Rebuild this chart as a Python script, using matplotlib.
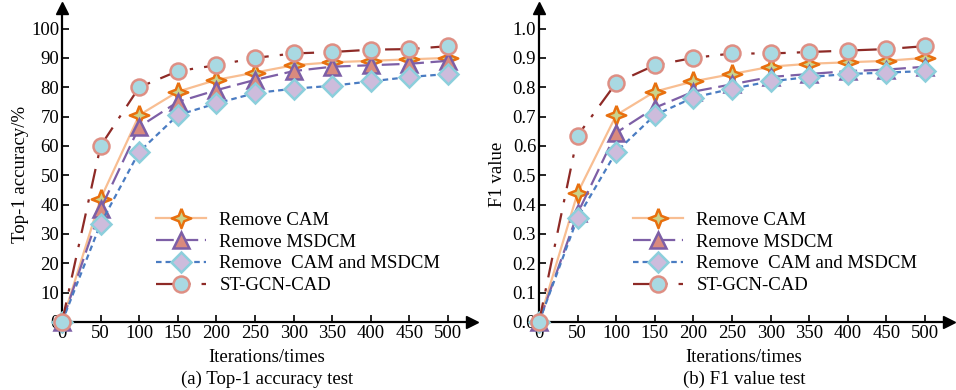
import numpy as np
import matplotlib
matplotlib.use("Agg")
from matplotlib import pyplot as plt

plt.rcParams['font.family'] = ['Liberation Serif', 'DejaVu Serif']
plt.rcParams['mathtext.fontset'] = 'stix'

iterations = [0, 50, 100, 150, 200, 250, 300, 350, 400, 450, 500]
labels = ['Remove CAM', 'Remove MSDCM', 'Remove  CAM and MSDCM', 'ST-GCN-CAD']

# (a) Top-1 accuracy, %
acc_remove_cam = [0, 42, 70.5, 78.5, 82.5, 85, 87.5, 88.5, 89, 89.5, 90]
acc_remove_msdcm = [0, 38.5, 66.5, 75, 79, 82.5, 85.5, 87, 87.5, 88, 89]
acc_remove_both = [0, 33.5, 58, 70.5, 74.5, 78, 79.5, 80.5, 82, 83.5, 84.5]
acc_st_gcn_cad = [0, 60, 80, 85.5, 87.5, 90, 91.5, 92, 92.8, 93, 94]

# (b) F1 value
f1_remove_cam = [0, 0.44, 0.705, 0.785, 0.82, 0.845, 0.87, 0.88, 0.885, 0.89, 0.90]
f1_remove_msdcm = [0, 0.37, 0.645, 0.73, 0.785, 0.81, 0.835, 0.845, 0.855, 0.86, 0.87]
f1_remove_both = [0, 0.355, 0.58, 0.705, 0.765, 0.795, 0.82, 0.835, 0.845, 0.85, 0.855]
f1_st_gcn_cad = [0, 0.635, 0.815, 0.875, 0.90, 0.915, 0.915, 0.92, 0.925, 0.93, 0.94]

star4 = [(0, 1), (0.28, 0.28), (1, 0), (0.28, -0.28), (0, -1), (-0.28, -0.28), (-1, 0), (-0.28, 0.28), (0, 1)]

styles = [
    dict(color='#f8be92', ls='-', lw=1.6, marker=star4, ms=14, mfc='#c9d38c', mec='#e8700f', mew=1.8),
    dict(color='#7d5fa6', ls=(0, (8, 3)), lw=1.6, marker='^', ms=12, mfc='#d98a7e', mec='#7d5fa6', mew=1.8),
    dict(color='#4a7cc2', ls=(0, (2.5, 1.8)), lw=1.6, marker='D', ms=10, mfc='#cdbcdc', mec='#8ccfdc', mew=1.8),
    dict(color='#8e2a26', ls=(0, (9, 5, 1.5, 5)), lw=1.6, marker='o', ms=11.5, mfc='#a9d9e2', mec='#de8f84', mew=1.8),
]

fs = 13.5
fig = plt.figure(figsize=(9.56, 3.9), dpi=100)


def panel(left, series, ylim_top, yticks, ytick_fmt, ylabel, caption, legend_y):
    ax = fig.add_axes([left, 68 / 390, 410 / 956, 314 / 390])
    for ys, lab, st in zip(series, labels, styles):
        ax.plot(iterations, ys, label=lab, clip_on=False, zorder=3, **st)
    ax.set_xlim(0, 531)
    ax.set_ylim(0, ylim_top)
    ax.spines['top'].set_visible(False)
    ax.spines['right'].set_visible(False)
    ax.spines['left'].set_linewidth(1.6)
    ax.spines['bottom'].set_linewidth(1.6)
    # arrow heads at the axis ends
    ax.plot(1, 0, '>k', ms=8, transform=ax.transAxes, clip_on=False)
    ax.plot(0, 1, '^k', ms=8, transform=ax.transAxes, clip_on=False)
    ax.set_xticks(iterations)
    ax.set_yticks(yticks)
    ax.set_yticklabels([ytick_fmt.format(v) for v in yticks])
    ax.tick_params(direction='in', length=5, width=1.2, labelsize=fs, pad=2)
    ax.set_xlabel('Iterations/times', fontsize=fs, labelpad=5)
    ax.set_ylabel(ylabel, fontsize=fs)
    ax.yaxis.set_label_coords(-0.08, 0.47)
    ax.text(0.5, -0.155, caption, transform=ax.transAxes, ha='center', va='top', fontsize=fs)
    ax.legend(loc='upper left', bbox_to_anchor=(0.21, legend_y), frameon=False, fontsize=fs,
              handlelength=2.7, handletextpad=0.7, labelspacing=0.25, borderaxespad=0)
    return ax


panel(62 / 956, [acc_remove_cam, acc_remove_msdcm, acc_remove_both, acc_st_gcn_cad],
      107, list(range(0, 101, 10)), '{:d}', 'Top-1 accuracy/%', '(a) Top-1 accuracy test', 0.375)
panel(539 / 956, [f1_remove_cam, f1_remove_msdcm, f1_remove_both, f1_st_gcn_cad],
      1.07, [round(v * 0.1, 1) for v in range(11)], '{:.1f}', 'F1 value', '(b) F1 value test', 0.375)

fig.savefig('out.png', dpi=100)
